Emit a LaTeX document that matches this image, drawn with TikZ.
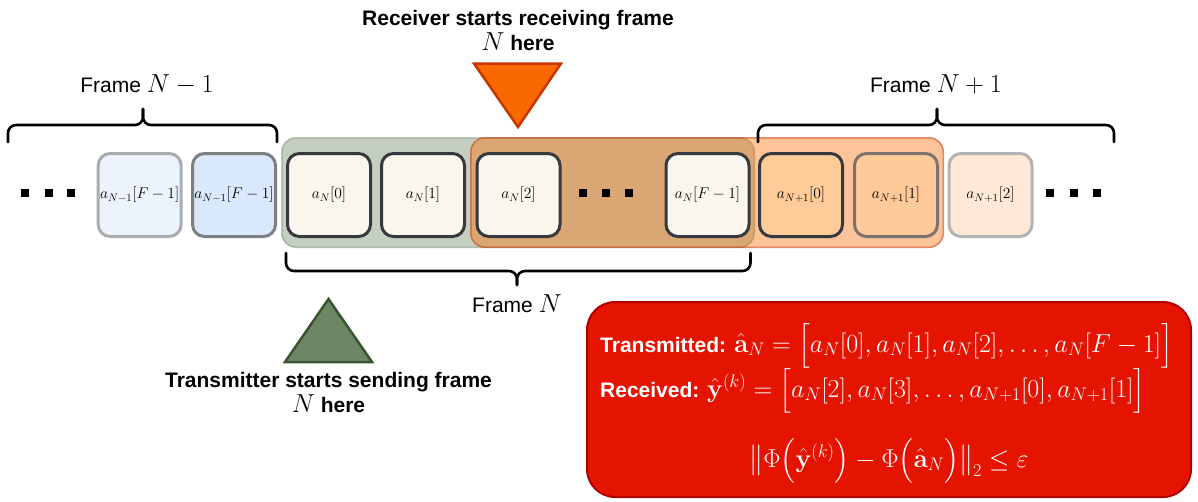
\RequirePackage{fix-cm}
\documentclass[tikz,border=0pt]{standalone}
\usepackage{amsmath}
\usepackage[no-math]{fontspec}
\setmainfont{Liberation Sans}
\usetikzlibrary{calc}

% colours
\definecolor{cream}{HTML}{F9F7ED}
\definecolor{boxedge}{HTML}{36393D}
\definecolor{paleblue}{HTML}{ECF3FD}
\definecolor{lightblue}{HTML}{DAE8FC}
\definecolor{faintedge}{HTML}{ABACAE}
\definecolor{midedge}{HTML}{7D7F82}
\definecolor{peach}{HTML}{FFCC99}
\definecolor{peachmid}{HTML}{FFC99A}
\definecolor{peachedge}{HTML}{7A736E}
\definecolor{peachpale}{HTML}{FFE9D6}
\definecolor{peachfaint}{HTML}{B3B3B3}
\definecolor{txgreen}{HTML}{6D8764}
\definecolor{txgreenedge}{HTML}{3A5431}
\definecolor{rxorange}{HTML}{FA6800}
\definecolor{rxorangeedge}{HTML}{C73500}
\definecolor{alertred}{HTML}{E51400}
\definecolor{alertrededge}{HTML}{B20000}

% large math inside text lines
\newcommand{\Mth}[1]{{\fontsize{26}{30}\selectfont$#1$}}

\tikzset{
  symbox/.style={rectangle, rounded corners=12pt, line width=3pt,
    minimum width=83pt, minimum height=83pt, inner sep=0pt,
    font=\fontsize{15.5}{18}\selectfont},
  curbox/.style={symbox, fill=cream, draw=boxedge},
  dotsq/.style={rectangle, fill=black, minimum size=8pt, inner sep=0pt},
  framebrace/.style={line width=2.6pt, rounded corners=8pt, line cap=round},
  lbl/.style={inner sep=0pt, font=\fontsize{21}{25}\selectfont},
  boldlbl/.style={inner sep=0pt, font=\fontsize{21}{25}\selectfont\bfseries},
}

\begin{document}
\begin{tikzpicture}[x=1pt, y=-1pt]
\useasboundingbox (0,0) rectangle (1198,501);

% sending / receiving windows
\draw[line width=1.5pt, rounded corners=14pt, fill=txgreen, fill opacity=0.4,
      draw=txgreenedge, draw opacity=0.3]
  (281.75,137.75) rectangle (754.25,247.25);
\draw[line width=1.5pt, rounded corners=14pt, fill=rxorange, fill opacity=0.4,
      draw=rxorangeedge, draw opacity=0.55]
  (470.75,137.75) rectangle (943.25,247.25);

% symbols
\node[symbox, fill=paleblue, draw=faintedge] (p1) at (139.7,195) {$a_{N-1}[F-1]$};
\node[symbox, fill=lightblue, draw=midedge]  (p2) at (234,195)   {$a_{N-1}[F-1]$};
\node[curbox] (c0) at (329,195)   {$a_N[0]$};
\node[curbox] (c1) at (423,195)   {$a_N[1]$};
\node[curbox] (c2) at (518.5,195) {$a_N[2]$};
\node[curbox] (cF) at (707.5,195) {$a_N[F-1]$};
\node[symbox, fill=peach, draw=boxedge]          (n0) at (801,195)   {$a_{N+1}[0]$};
\node[symbox, fill=peachmid, draw=peachedge]     (n1) at (896,195)   {$a_{N+1}[1]$};
\node[symbox, fill=peachpale, draw=peachfaint]   (n2) at (990.5,195) {$a_{N+1}[2]$};

% ellipses
\foreach \i/\x in {1/25, 2/49, 3/71}    {\node[dotsq] (ld\i) at (\x,192.5) {};}
\foreach \i/\x in {1/583, 2/606, 3/629} {\node[dotsq] (md\i) at (\x,192.5) {};}
\foreach \i/\x in {1/1050, 2/1074, 3/1097} {\node[dotsq] (rd\i) at (\x,192.5) {};}

% frame braces
\coordinate (lbL) at (8,142);
\coordinate (lbR) at (p2.east |- 0,142);
\coordinate (lbT) at (143,109);
\draw[framebrace] (lbL) |- (143,125) -- (lbT);
\draw[framebrace] (lbR) |- (143,125) -- (lbT);

\coordinate (rbL) at (n0.west |- 0,142);
\coordinate (rbR) at (1114,142);
\coordinate (rbT) at (937,109);
\draw[framebrace] (rbL) |- (937,125) -- (rbT);
\draw[framebrace] (rbR) |- (937,125) -- (rbT);

\coordinate (bbL) at (c0.west |- 0,253);
\coordinate (bbR) at (cF.east |- 0,253);
\coordinate (bbT) at (517,285);
\draw[framebrace] (bbL) |- (517,271) -- (bbT);
\draw[framebrace] (bbR) |- (517,271) -- (bbT);

\node[lbl, anchor=base] (fprev) at (147,92)  {Frame \Mth{N-1}};
\node[lbl, anchor=base] (fnext) at (936,92)  {Frame \Mth{N+1}};
\node[lbl, anchor=base] (fcur)  at (517,312) {Frame \Mth{N}};

% receiver marker
\draw[line width=2.5pt, fill=rxorange, draw=rxorangeedge, line join=miter]
  (474,63.5) -- (561,63.5) -- (518,127) -- cycle;
\node[boldlbl, anchor=base] (rx1) at (518,25) {Receiver starts receiving frame};
\node[boldlbl, anchor=base] (rx2) at (518,50) {\Mth{N} here};

% transmitter marker
\draw[line width=2.5pt, fill=txgreen, draw=txgreenedge, line join=miter]
  (285,362) -- (372,362) -- (328.5,299) -- cycle;
\node[boldlbl, anchor=base] (tx1) at (328.5,387) {Transmitter starts sending frame};
\node[boldlbl, anchor=base] (tx2) at (328.5,412) {\Mth{N} here};

% summary panel
\draw[line width=2pt, rounded corners=28pt, fill=alertred, draw=alertrededge]
  (587,302) rectangle (1191,497);
\node[boldlbl, text=white, anchor=base west] (sent) at (600,352)
  {Transmitted: \Mth{\hat{\mathbf{a}}_N = \Big[a_N[0], a_N[1], a_N[2], \ldots, a_N[F-1]\Big]}};
\node[boldlbl, text=white, anchor=base west] (recv) at (600,397)
  {Received: \Mth{\hat{\mathbf{y}}^{(k)} = \Big[a_N[2], a_N[3], \ldots, a_{N+1}[0], a_{N+1}[1]\Big]}};
\node[lbl, text=white, anchor=base] (crit) at (889,467)
  {\Mth{\big\|\Phi\Big(\hat{\mathbf{y}}^{(k)}\Big) - \Phi\Big(\hat{\mathbf{a}}_N\Big)\big\|_2 \le \varepsilon}};
\end{tikzpicture}
\end{document}
